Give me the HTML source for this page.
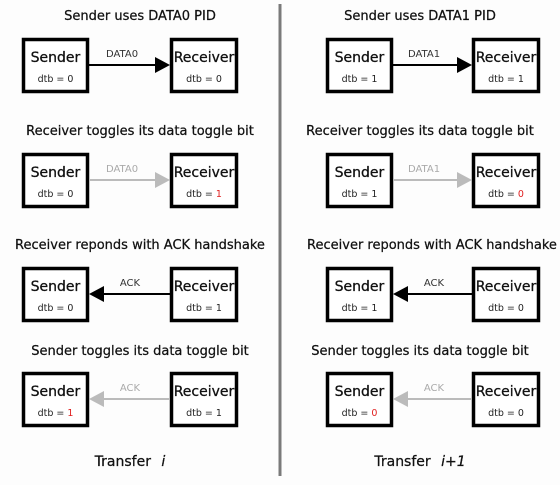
<!DOCTYPE html><html><head><style>body{margin:0;background:#fdfdfd}</style></head><body>
<svg width="560" height="480" xmlns="http://www.w3.org/2000/svg" font-family="DejaVu Sans, Liberation Sans, sans-serif">
<rect width="560" height="480" fill="#fdfdfd"/>
<line x1="280" y1="4" x2="280" y2="476" stroke="#7a7a7a" stroke-width="3"/>
<g font-size="13" text-anchor="middle" fill="#111" stroke="#111" stroke-width="0.25">
<text x="140" y="20">Sender uses DATA0 PID</text>
<text x="140" y="135">Receiver toggles its data toggle bit</text>
<text x="140" y="249">Receiver reponds with ACK handshake</text>
<text x="140" y="355">Sender toggles its data toggle bit</text>
<text x="130" y="466" font-size="14">Transfer <tspan font-style="italic" dx="6">i</tspan></text>
<text x="420" y="20">Sender uses DATA1 PID</text>
<text x="420" y="135">Receiver toggles its data toggle bit</text>
<text x="432" y="249">Receiver reponds with ACK handshake</text>
<text x="420" y="355">Sender toggles its data toggle bit</text>
<text x="420" y="466" font-size="14">Transfer <tspan font-style="italic" dx="6">i+1</tspan></text>
</g>
<g fill="#fff" stroke="#000" stroke-width="3.5">
<rect x="23.5" y="39.5" width="64" height="52"/><rect x="171.5" y="39.5" width="65" height="52"/>
<rect x="23.5" y="154.5" width="64" height="52"/><rect x="171.5" y="154.5" width="65" height="52"/>
<rect x="23.5" y="268.5" width="64" height="52"/><rect x="171.5" y="268.5" width="65" height="52"/>
<rect x="23.5" y="373.5" width="64" height="52"/><rect x="171.5" y="373.5" width="65" height="52"/>
<rect x="327.5" y="39.5" width="64" height="52"/><rect x="473.5" y="39.5" width="65" height="52"/>
<rect x="327.5" y="154.5" width="64" height="52"/><rect x="473.5" y="154.5" width="65" height="52"/>
<rect x="327.5" y="268.5" width="64" height="52"/><rect x="473.5" y="268.5" width="65" height="52"/>
<rect x="327.5" y="373.5" width="64" height="52"/><rect x="473.5" y="373.5" width="65" height="52"/>
</g>
<g font-size="14" text-anchor="middle" fill="#111" stroke="#111" stroke-width="0.3">
<text x="55.5" y="62">Sender</text><text x="204" y="62">Receiver</text>
<text x="55.5" y="177">Sender</text><text x="204" y="177">Receiver</text>
<text x="55.5" y="291">Sender</text><text x="204" y="291">Receiver</text>
<text x="55.5" y="396">Sender</text><text x="204" y="396">Receiver</text>
<text x="359.5" y="62">Sender</text><text x="506" y="62">Receiver</text>
<text x="359.5" y="177">Sender</text><text x="506" y="177">Receiver</text>
<text x="359.5" y="291">Sender</text><text x="506" y="291">Receiver</text>
<text x="359.5" y="396">Sender</text><text x="506" y="396">Receiver</text>
</g>
<g font-size="9.5" text-anchor="middle" fill="#222">
<text x="55.5" y="82">dtb = 0</text><text x="204" y="82">dtb = 0</text>
<text x="55.5" y="197">dtb = 0</text><text x="204" y="197">dtb = <tspan fill="#e02020">1</tspan></text>
<text x="55.5" y="311">dtb = 0</text><text x="204" y="311">dtb = 1</text>
<text x="55.5" y="416">dtb = <tspan fill="#e02020">1</tspan></text><text x="204" y="416">dtb = 1</text>
<text x="359.5" y="82">dtb = 1</text><text x="506" y="82">dtb = 1</text>
<text x="359.5" y="197">dtb = 1</text><text x="506" y="197">dtb = <tspan fill="#e02020">0</tspan></text>
<text x="359.5" y="311">dtb = 1</text><text x="506" y="311">dtb = 0</text>
<text x="359.5" y="416">dtb = <tspan fill="#e02020">0</tspan></text><text x="506" y="416">dtb = 0</text>
</g>
<g font-size="10" text-anchor="middle">
<text x="122" y="57" fill="#333">DATA0</text><text x="122" y="172" fill="#aaa">DATA0</text>
<text x="130" y="286" fill="#333">ACK</text><text x="130" y="391" fill="#aaa">ACK</text>
<text x="424" y="57" fill="#333">DATA1</text><text x="424" y="172" fill="#aaa">DATA1</text>
<text x="434" y="286" fill="#333">ACK</text><text x="434" y="391" fill="#aaa">ACK</text>
</g>
<g stroke-width="2">
<line x1="89" y1="65" x2="156" y2="65" stroke="#000"/><polygon points="155,57 170,65 155,73" fill="#000"/>
<line x1="89" y1="180" x2="156" y2="180" stroke="#bbb"/><polygon points="155,172 170,180 155,188" fill="#bbb"/>
<line x1="103" y1="294" x2="170" y2="294" stroke="#000"/><polygon points="104,286 89,294 104,302" fill="#000"/>
<line x1="103" y1="399" x2="170" y2="399" stroke="#bbb"/><polygon points="104,391 89,399 104,407" fill="#bbb"/>
<line x1="393" y1="65" x2="458" y2="65" stroke="#000"/><polygon points="457,57 472,65 457,73" fill="#000"/>
<line x1="393" y1="180" x2="458" y2="180" stroke="#bbb"/><polygon points="457,172 472,180 457,188" fill="#bbb"/>
<line x1="407" y1="294" x2="472" y2="294" stroke="#000"/><polygon points="408,286 393,294 408,302" fill="#000"/>
<line x1="407" y1="399" x2="472" y2="399" stroke="#bbb"/><polygon points="408,391 393,399 408,407" fill="#bbb"/>
</g>
</svg>
</body></html>
